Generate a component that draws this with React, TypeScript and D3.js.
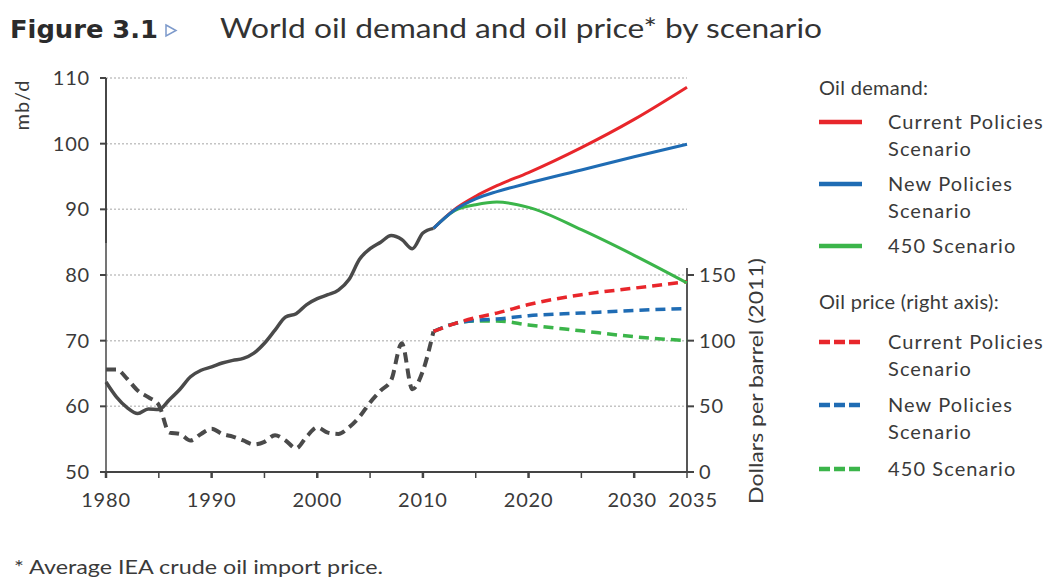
import React from "react";
import * as d3 from "d3";

const histYears = d3.range(1980, 2012);
const histDemand = [63.7, 61.4, 59.8, 58.9, 59.6, 59.5, 61.0, 62.6, 64.5, 65.5, 66.0, 66.6, 67.0, 67.3, 68.1, 69.6, 71.6, 73.6, 74.1, 75.5, 76.4, 77.0, 77.7, 79.3, 82.4, 84.0, 85.0, 86.0, 85.4, 84.0, 86.4, 87.1];
const histPrice = [78, 78, 71, 62, 57, 51, 30, 29, 24, 29, 33, 29, 27, 24, 21, 23, 28, 24, 18, 27, 34, 30, 29, 34, 42, 53, 62, 70, 98, 63, 77, 107];

const projYears = [2011, 2013, 2015, 2017, 2020, 2025, 2030, 2035];
const demandCPS = [87.1, 90.0, 92.0, 93.6, 95.6, 99.4, 103.7, 108.6];
const demandNPS = [87.1, 89.9, 91.6, 92.7, 94.0, 96.0, 98.0, 99.9];
const demand450 = [87.1, 89.8, 90.7, 91.1, 90.3, 86.9, 83.0, 78.8];
const priceCPS = [107, 113, 117.5, 121, 127.5, 135, 140, 145];
const priceNPS = [107, 113, 115.5, 116.5, 119, 121, 123, 124.5];
const price450 = [107, 113, 115, 115, 112, 107.5, 103, 100];

const leftTicks = [50, 60, 70, 80, 90, 100, 110];
const rightTicks = [0, 50, 100, 150];
const xLabelYears = [1980, 1990, 2000, 2010, 2020, 2030, 2035];
const xTickYears = d3.range(1980, 2036, 5);

const RED = "#e8262b";
const BLUE = "#1f6cb4";
const GREEN = "#3bb54a";
const GRAY = "#4a4a4a";
const TEXT = "#3a3a3a";
const FONT = "Lato, 'Open Sans', sans-serif";

export default function App() {
  const x = d3.scaleLinear().domain([1980, 2035]).range([106, 687]);
  const yL = d3.scaleLinear().domain([50, 110]).range([472, 78]);
  const yR = d3.scaleLinear().domain([0, 150]).range([472, 275]);

  const mk = (ys: number[], vals: number[], s: d3.ScaleLinear<number, number>) =>
    d3
      .line<number>()
      .x((_, i) => x(ys[i]))
      .y((v) => s(v))
      .curve(d3.curveMonotoneX)(vals) || "";

  const dash = "10,6";
  const ls = 1.1;

  return (
    <svg
      width={1048}
      height={578}
      style={{ position: "absolute", left: 0, top: 0, background: "#fff" }}
      fontFamily={FONT}
    >
      {/* Title */}
      <text x={10} y={38} fontSize={24} fontWeight={700} fill="#2b2b2b" fontFamily="'DejaVu Sans', sans-serif" textLength={148} lengthAdjust="spacingAndGlyphs">
        Figure 3.1
      </text>
      <path d="M166,25 L176,30.5 L166,36 Z" fill="none" stroke="#7d9acb" strokeWidth={1.5} />
      <text x={220} y={38} fontSize={27} fill="#333" textLength={602} lengthAdjust="spacingAndGlyphs">
        World oil demand and oil price* by scenario
      </text>

      {/* gridlines */}
      {leftTicks
        .filter((t) => t > 50)
        .map((t) => (
          <line key={"g" + t} x1={106} x2={687} y1={yL(t)} y2={yL(t)} stroke="#c4c4c4" strokeWidth={1.5} strokeDasharray="2,2" />
        ))}

      {/* left axis */}
      <line x1={106} x2={106} y1={yL(110)} y2={243} stroke="#333" strokeWidth={1.8} />
      <line x1={106} x2={106} y1={243} y2={472} stroke="#666" strokeWidth={1.8} />
      {leftTicks.map((t) => (
        <g key={"lt" + t}>
          <line x1={100} x2={106} y1={yL(t)} y2={yL(t)} stroke="#444" strokeWidth={2} />
          <text x={90} y={yL(t)} dy="0.35em" textAnchor="end" fontSize={20} fill={TEXT} letterSpacing={0.8}>
            {t}
          </text>
        </g>
      ))}
      <text transform={`translate(29,105) rotate(-90)`} textAnchor="middle" fontSize={20} fill={TEXT} letterSpacing={1}>
        mb/d
      </text>

      {/* x axis */}
      <line x1={106} x2={687} y1={472} y2={472} stroke="#444" strokeWidth={1.8} />
      {xTickYears.map((t) => (
        <line key={"xt" + t} x1={x(t)} x2={x(t)} y1={472} y2={478} stroke="#444" strokeWidth={t % 10 === 0 ? 2.5 : 1.5} />
      ))}
      {xLabelYears.map((t) => (
        <text key={"xl" + t} x={t === 2030 ? x(t) - 2 : t === 2035 ? x(t) + 6 : x(t)} y={507} textAnchor="middle" fontSize={20} fill={TEXT} letterSpacing={0.8}>
          {t}
        </text>
      ))}

      {/* right axis */}
      <line x1={687} x2={687} y1={yR(150) - 7} y2={472} stroke="#444" strokeWidth={1.8} />
      {rightTicks.map((t) => (
        <g key={"rt" + t}>
          <line x1={687} x2={694} y1={yR(t)} y2={yR(t)} stroke="#444" strokeWidth={2} />
          <text x={699} y={yR(t)} dy="0.35em" fontSize={20} fill={TEXT} letterSpacing={0.8}>
            {t}
          </text>
        </g>
      ))}
      <text transform={`translate(763,381) rotate(-90)`} textAnchor="middle" fontSize={20} fill={TEXT} textLength={246} lengthAdjust="spacingAndGlyphs">
        Dollars per barrel (2011)
      </text>

      {/* price lines */}
      <path d={mk(histYears, histPrice, yR)} fill="none" stroke={GRAY} strokeWidth={4} strokeDasharray={dash} />
      <path d={mk(projYears, price450, yR)} fill="none" stroke={GREEN} strokeWidth={3.5} strokeDasharray={dash} />
      <path d={mk(projYears, priceNPS, yR)} fill="none" stroke={BLUE} strokeWidth={3.5} strokeDasharray={dash} />
      <path d={mk(projYears, priceCPS, yR)} fill="none" stroke={RED} strokeWidth={3.5} strokeDasharray={dash} />

      {/* demand lines */}
      <path d={mk(histYears, histDemand, yL)} fill="none" stroke={GRAY} strokeWidth={3.5} />
      <path d={mk(projYears, demand450, yL)} fill="none" stroke={GREEN} strokeWidth={3} />
      <path d={mk(projYears, demandCPS, yL)} fill="none" stroke={RED} strokeWidth={3} />
      <path d={mk(projYears, demandNPS, yL)} fill="none" stroke={BLUE} strokeWidth={3} />

      {/* legend */}
      <g fontSize={20} fill={TEXT} letterSpacing={ls}>
        <text x={819} y={95} letterSpacing={0.3}>Oil demand:</text>
        <line x1={819} x2={862} y1={122} y2={122} stroke={RED} strokeWidth={4.5} />
        <text x={888} y={129}>Current Policies</text>
        <text x={888} y={156}>Scenario</text>
        <line x1={819} x2={862} y1={184} y2={184} stroke={BLUE} strokeWidth={4.5} />
        <text x={888} y={191}>New Policies</text>
        <text x={888} y={218}>Scenario</text>
        <line x1={819} x2={862} y1={246} y2={246} stroke={GREEN} strokeWidth={4.5} />
        <text x={888} y={253}>450 Scenario</text>

        <text x={819} y={309} letterSpacing={0.3}>Oil price (right axis):</text>
        <line x1={819} x2={862} y1={342} y2={342} stroke={RED} strokeWidth={4.5} strokeDasharray="11,4" />
        <text x={888} y={349}>Current Policies</text>
        <text x={888} y={376}>Scenario</text>
        <line x1={819} x2={862} y1={405} y2={405} stroke={BLUE} strokeWidth={4.5} strokeDasharray="11,4" />
        <text x={888} y={412}>New Policies</text>
        <text x={888} y={439}>Scenario</text>
        <line x1={819} x2={862} y1={469} y2={469} stroke={GREEN} strokeWidth={4.5} strokeDasharray="11,4" />
        <text x={888} y={476}>450 Scenario</text>
      </g>

      {/* footnote */}
      <text x={14} y={574} fontSize={19} fill={TEXT} textLength={369} lengthAdjust="spacingAndGlyphs">
        * Average IEA crude oil import price.
      </text>
    </svg>
  );
}
